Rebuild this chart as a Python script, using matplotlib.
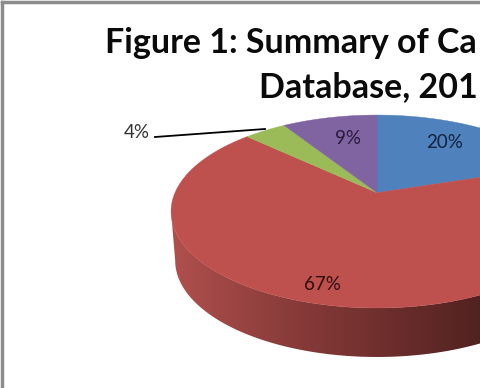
"""Tilted 3D pie with a red rim, cropped on the right like the source figure."""

import matplotlib

matplotlib.use("Agg")
import matplotlib.pyplot as plt
import numpy as np
from matplotlib.colors import LinearSegmentedColormap
from matplotlib.patches import Polygon

plt.rcParams["font.family"] = ["Lato", "DejaVu Sans"]

TITLE_LINES = ["Figure 1: Summary of Ca", "Database, 201"]
VALUES = [20, 67, 4, 9]
LABELS = ["20%", "67%", "4%", "9%"]
COLORS = ["#4F81BD", "#BE504E", "#9BBB59", "#8064A2"]
LABEL_COLORS = ["#14233a", "#2e0f0f", "#333333", "#2a1a3c"]
RIM_COLORS = ["#b0504e", "#8a3c3a", "#682c2a", "#471d1c"]

# pie geometry in pixels
CX, CY = 377, 192.7
BX, AY, K = 202, 92.8, 0.195
DEPTH = 49


def project(deg):
    """Clockwise angle from 12 o'clock -> pixel on the tilted disc rim."""
    t = np.radians(deg)
    u, v = np.sin(t), np.cos(t)
    d = 1 + K * v
    return CX + BX * u / d, CY - AY * v / d


def main():
    fig = plt.figure(figsize=(4.8, 3.88), dpi=100, facecolor="white")
    ax = fig.add_axes([0, 0, 1, 1])

    # ---- rim first, runs between the two widest points of the disc ----
    widest = np.degrees(np.arccos(-K))
    rx, ry = project(np.linspace(widest, 360 - widest, 200))
    bottom_x = CX + (rx - CX) * 0.98
    outline = np.r_[np.c_[rx, ry], np.c_[bottom_x, ry + DEPTH][::-1]]
    clip = Polygon(outline, closed=True, transform=ax.transData, fc="none", ec="none")
    ax.add_patch(clip)
    cmap = LinearSegmentedColormap.from_list("rim", RIM_COLORS)
    im = ax.imshow(np.linspace(0, 1, 256)[None, :], cmap=cmap, aspect="auto",
                   extent=[171, 520, 388, 0], zorder=1)
    im.set_clip_path(clip)

    # ---- top face ----
    edges = np.cumsum([0] + VALUES) / sum(VALUES) * 360
    for start, end, color in zip(edges[:-1], edges[1:], COLORS):
        x, y = project(np.linspace(start, end, 120))
        pts = np.r_[[[CX, CY]], np.c_[x, y]]
        ax.add_patch(Polygon(pts, closed=True, fc=color, ec=color, lw=0.3, zorder=2))

    # ---- labels ----
    label_pos = [(445, 143), (322, 285), (137, 133), (348, 138)]
    for text, color, (lx, ly) in zip(LABELS, LABEL_COLORS, label_pos):
        ax.text(lx, ly, text, color=color, fontsize=13.5, ha="center", va="center", zorder=4)
    ax.plot([155, 265], [137, 129], color="black", lw=1.3, zorder=3)

    # ---- title, runs up to the right edge ----
    ax.text(105, 43, TITLE_LINES[0], fontsize=24.5, fontweight="bold", color="#0a0a0a",
            ha="left", va="center", zorder=4)
    ax.text(259, 87, TITLE_LINES[1], fontsize=24.5, fontweight="bold", color="#0a0a0a",
            ha="left", va="center", zorder=4)

    # ---- frame of the original chart box ----
    ax.plot([2, 2], [388, 2], color="#8c8c8c", lw=2.5, zorder=5)
    ax.plot([2, 480], [2, 2], color="#8c8c8c", lw=2.5, zorder=5)

    ax.set_xlim(0, 480)
    ax.set_ylim(388, 0)
    ax.axis("off")
    fig.savefig("out.png", dpi=100)


if __name__ == "__main__":
    main()
